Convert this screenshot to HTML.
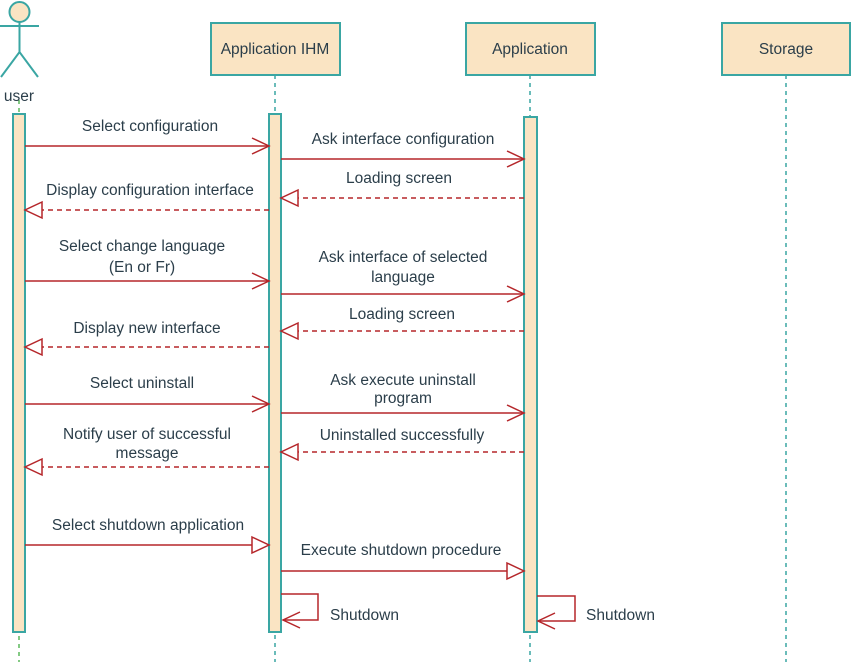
<!DOCTYPE html>
<html><head><meta charset="utf-8"><style>html,body{margin:0;padding:0;background:#fff}</style></head><body>
<svg width="851" height="662" viewBox="0 0 851 662" xmlns="http://www.w3.org/2000/svg" font-family="Liberation Sans, sans-serif" font-size="15.5" fill="#2b3e4a">
<g stroke="#3aa6a3" stroke-width="1.5" stroke-dasharray="4,4" fill="none">
<line x1="19" y1="100" x2="19" y2="662" stroke="#5cb85c"/>
<line x1="275" y1="75" x2="275" y2="662"/>
<line x1="530" y1="75" x2="530" y2="662"/>
<line x1="786" y1="75" x2="786" y2="662"/>
</g>
<g stroke="#3aa6a3" stroke-width="2" fill="#fae4c3">
<circle cx="19.5" cy="12" r="10"/>
<rect x="211" y="23" width="129" height="52"/>
<rect x="466" y="23" width="129" height="52"/>
<rect x="722" y="23" width="128" height="52"/>
<rect x="13" y="114" width="12" height="518"/>
<rect x="269" y="114" width="12" height="518"/>
<rect x="524" y="117" width="13" height="515"/>
</g>
<g stroke="#3aa6a3" stroke-width="2" fill="none">
<line x1="19.5" y1="22" x2="19.5" y2="52"/><line x1="0" y1="26" x2="39" y2="26"/>
<polyline points="1,77 19.5,52 38,77"/>
</g>
<g transform="translate(0,1)">
<g text-anchor="middle" dominant-baseline="middle" font-size="15.5">
<text x="19" y="96">user</text>
<text x="275" y="49">Application IHM</text>
<text x="530" y="49">Application</text>
<text x="786" y="49">Storage</text>
</g>
<g text-anchor="middle" dominant-baseline="middle">
<text x="150" y="126">Select configuration</text>
<text x="403" y="139">Ask interface configuration</text>
<text x="399" y="178">Loading screen</text>
<text x="150" y="190">Display configuration interface</text>
<text x="142" y="246">Select change language</text>
<text x="142" y="267">(En or Fr)</text>
<text x="403" y="257">Ask interface of selected</text>
<text x="403" y="277">language</text>
<text x="402" y="314">Loading screen</text>
<text x="147" y="328">Display new interface</text>
<text x="142" y="383">Select uninstall</text>
<text x="403" y="380">Ask execute uninstall</text>
<text x="403" y="398">program</text>
<text x="402" y="435">Uninstalled successfully</text>
<text x="147" y="434">Notify user of successful</text>
<text x="147" y="453">message</text>
<text x="148" y="525">Select shutdown application</text>
<text x="401" y="550">Execute shutdown procedure</text>
</g>
<g dominant-baseline="middle">
<text x="330" y="615">Shutdown</text>
<text x="586" y="615">Shutdown</text>
</g>
</g>
<g stroke="#b5262a" stroke-width="1.5" fill="none">
<line x1="25" y1="146" x2="269" y2="146"/><polyline points="252,138 269,146 252,154"/>
<line x1="281" y1="159" x2="524" y2="159"/><polyline points="507,151 524,159 507,167"/>
<line x1="25" y1="281" x2="269" y2="281"/><polyline points="252,273 269,281 252,289"/>
<line x1="281" y1="294" x2="524" y2="294"/><polyline points="507,286 524,294 507,302"/>
<line x1="25" y1="404" x2="269" y2="404"/><polyline points="252,396 269,404 252,412"/>
<line x1="281" y1="413" x2="524" y2="413"/><polyline points="507,405 524,413 507,421"/>
<line x1="25" y1="545" x2="252" y2="545"/><polygon points="252,537 269,545 252,553"/>
<line x1="281" y1="571" x2="507" y2="571"/><polygon points="507,563 524,571 507,579"/>
<g stroke-dasharray="5,4">
<line x1="524" y1="198" x2="298" y2="198"/><line x1="269" y1="210" x2="42" y2="210"/>
<line x1="524" y1="331" x2="298" y2="331"/><line x1="269" y1="347" x2="42" y2="347"/>
<line x1="524" y1="452" x2="298" y2="452"/><line x1="269" y1="467" x2="42" y2="467"/>
</g>
<polygon points="298,190 281,198 298,206"/><polygon points="42,202 25,210 42,218"/>
<polygon points="298,323 281,331 298,339"/><polygon points="42,339 25,347 42,355"/>
<polygon points="298,444 281,452 298,460"/><polygon points="42,459 25,467 42,475"/>
<polyline points="281,594 318,594 318,620 283,620"/><polyline points="300,612 283,620 300,628"/>
<polyline points="537,596 575,596 575,621 538,621"/><polyline points="555,613 538,621 555,629"/>
</g>
</svg>
</body></html>
